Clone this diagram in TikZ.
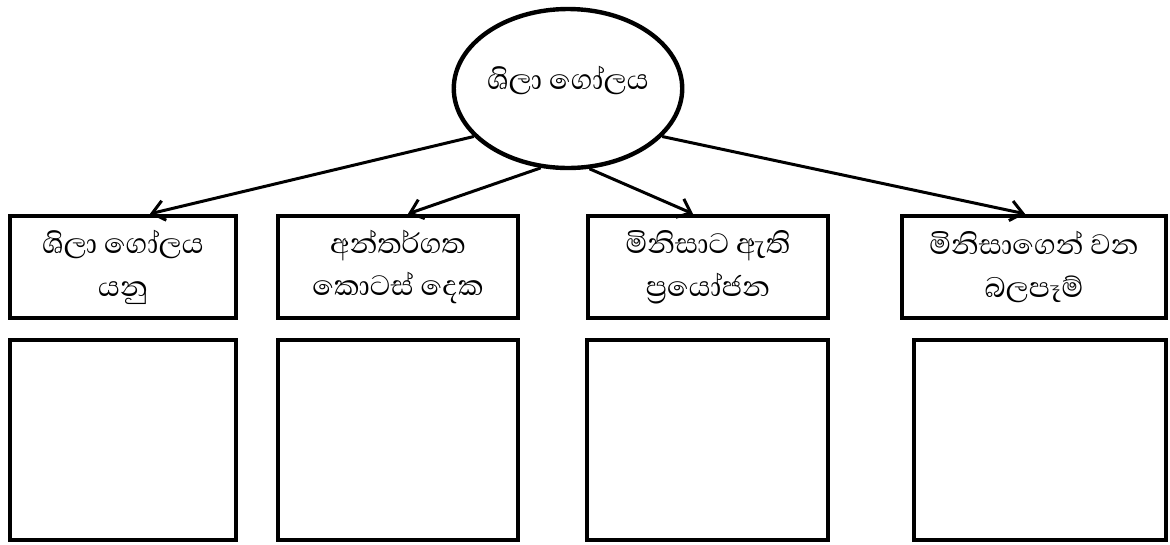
\documentclass[tikz,border=0pt]{standalone}
\usepackage{fontspec}
\newfontfamily\sinhfont[Script=Sinhala]{Abhaya Libre}
\usetikzlibrary{shapes.geometric,arrows.meta}
\begin{document}
\begin{tikzpicture}[x=0.75pt,y=-0.75pt,
  txt/.style={font=\sinhfont\fontsize{27}{32}\selectfont, align=center},
  topbox/.style={draw, line width=3.3pt, rectangle, minimum height=76.5pt, inner sep=0pt, txt},
  lowbox/.style={draw, line width=3.3pt, rectangle, minimum height=150pt, inner sep=0pt},
  conn/.style={line width=2.25pt, -{Straight Barb[length=9pt,width=15pt,line width=2.25pt]}}]
\useasboundingbox (0,0) rectangle (1170,544);
\node[draw, ellipse, line width=3.3pt, minimum width=162pt, minimum height=119.25pt, inner sep=0pt, txt] (e) at (568,88.5) {\raisebox{-1pt}[0pt][0pt]{ශිලා ගෝලය}};
\node[topbox, minimum width=169.5pt] (b1) at (123,267) {ශිලා ගෝලය\\යනු};
\node[topbox, minimum width=180pt] (b2) at (398,267) {අන්තර්ගත\\කොටස් දෙක};
\node[topbox, minimum width=180pt] (b3) at (708,267) {මිනිසාට ඇති\\ප්‍රයෝජන};
\node[topbox, minimum width=198pt] (b4) at (1034,267) {මිනිසාගෙන් වන\\බලපෑම්};
\node[lowbox, minimum width=169.5pt] (c1) at (123,440) {};
\node[lowbox, minimum width=180pt] (c2) at (398,440) {};
\node[lowbox, minimum width=180.75pt] (c3) at (707.5,440) {};
\node[lowbox, minimum width=189pt] (c4) at (1040,440) {};
\draw[conn] (e.207.6) -- ([xshift=20.25pt]b1.north);
\draw[conn] (e.251.8) -- ([xshift=7.5pt]b2.north);
\draw[conn] (e.285.7) -- ([xshift=-11.25pt]b3.north);
\draw[conn] (e.333.7) -- ([xshift=-6.75pt]b4.north);
\end{tikzpicture}
\end{document}
